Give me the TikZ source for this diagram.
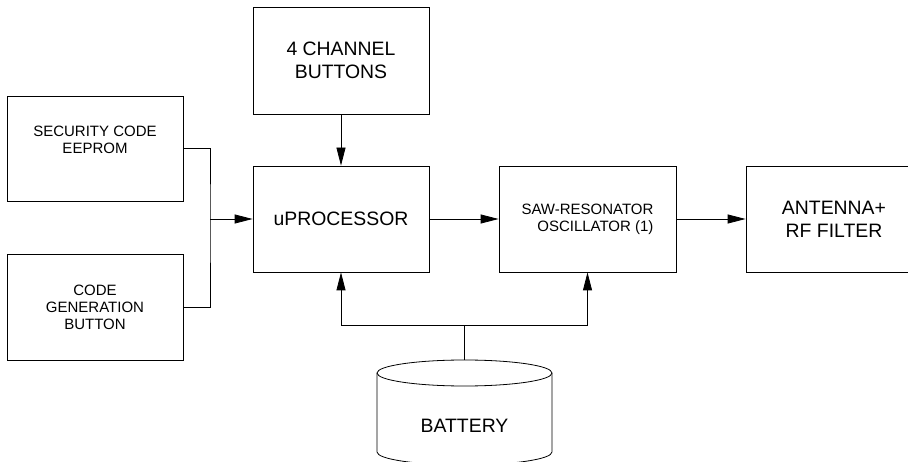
\documentclass[tikz,border=0pt]{standalone}
\usepackage{fontspec}
\setmainfont{Liberation Sans}
\usetikzlibrary{arrows.meta}
\begin{document}
\begin{tikzpicture}[x=1pt,y=-1pt,
    blockbox/.style={draw, line width=0.8pt, inner sep=0pt, align=center},
    bigtext/.style={font=\fontsize{19.4}{23}\selectfont},
    smalltext/.style={font=\fontsize{15}{17}\selectfont},
    flow/.style={line width=0.8pt, -{Triangle[length=18pt,width=9pt]}},
    wire/.style={line width=0.8pt}]
                % \helpgrid{3}{3}
                \clip (0,0) rectangle (908,462);
                \useasboundingbox (0,0) rectangle (908,462);

                \node [blockbox, bigtext, minimum width=176pt, minimum height=107pt] (buttons) at (341,60.5) {4 CHANNEL\\BUTTONS};
                \node [blockbox, smalltext, minimum width=176pt, minimum height=105pt] (eeprom) at (95,148.5) {SECURITY CODE\\EEPROM\\\mbox{}};
                \node [blockbox, smalltext, minimum width=176pt, minimum height=106pt] (codegen) at (95,307) {CODE\\GENERATION\\BUTTON};
                \node [blockbox, bigtext, minimum width=176pt, minimum height=106pt] (uproc) at (341,219) {uPROCESSOR};
                \node [blockbox, smalltext, align=right, minimum width=177pt, minimum height=106pt] (saw) at (587.5,219) {SAW-RESONATOR\\OSCILLATOR (1)};
                \node [blockbox, bigtext, minimum width=176pt, minimum height=106pt] (antenna) at (834,219) {ANTENNA+\\RF FILTER};

                % battery drum
                \draw [wire] (377,373) -- (377,452) arc [start angle=180, end angle=360, x radius=87.5, y radius=-13] -- (552,373);
                \draw [wire] (464.5,373) ellipse [x radius=87.5, y radius=13];
                \node [bigtext] (battery) at (464.5,426) {BATTERY};
                \coordinate (battop) at (464.5,360);
                \coordinate (bus) at (464.5,325);
                \coordinate (join) at (210,219);

                \draw [flow] (buttons.south)--(uproc.north);
                \draw [wire] (eeprom.east) -| (join) |- (codegen.east);
                \draw [flow] (join)--(uproc.west);
                \draw [flow] (uproc.east)--(saw.west);
                \draw [flow] (saw.east)--(antenna.west);

                \draw [wire] (battop)--(bus);
                \draw [flow] (bus) -| (uproc.south);
                \draw [flow] (bus) -| (saw.south);
            \end{tikzpicture}
\end{document}
